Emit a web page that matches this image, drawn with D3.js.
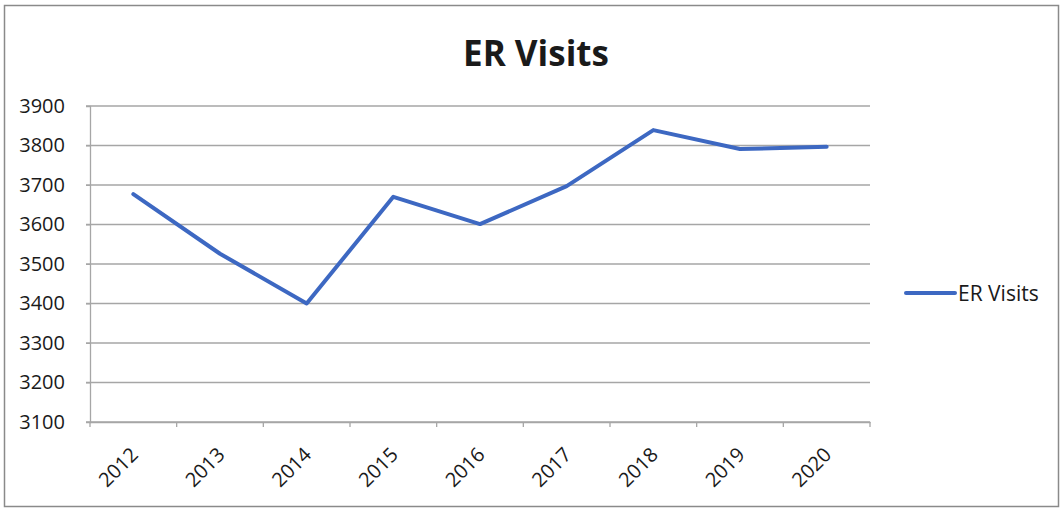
<!DOCTYPE html>
<html><head><meta charset="utf-8">
<script src="https://cdn.jsdelivr.net/npm/d3@7"></script>
<style>body{margin:0;background:#fff}svg{display:block}</style>
</head><body>
<svg id="c" width="1064" height="508"></svg>
<script>
const years = ["2012","2013","2014","2015","2016","2017","2018","2019","2020"];
const visits = [3677, 3526, 3400, 3670, 3601, 3697, 3839, 3791, 3797];
const yTicks = [3100,3200,3300,3400,3500,3600,3700,3800,3900];
const title = "ER Visits";
const seriesName = "ER Visits";

(function(){
const svg = d3.select("#c");
const font = "'Open Sans', 'DejaVu Sans', sans-serif";
const ink = "#1a1a1a";
svg.append("rect").attr("x",4.5).attr("y",5.5).attr("width",1054).attr("height",501)
  .attr("fill","#fff").attr("stroke","#8a8a8a").attr("stroke-width",1.5);

const pL=90, pR=870, pT=106, pB=422;
const x = d3.scaleBand().domain(years).range([pL,pR]);
const y = d3.scaleLinear().domain([3100,3900]).range([pB,pT]);

svg.append("g").selectAll("line").data(yTicks).join("line")
  .attr("x1",pL-4).attr("x2",pR).attr("y1",d=>y(d)).attr("y2",d=>y(d))
  .attr("stroke","#a6a6a6").attr("stroke-width",1.3);

const ya = svg.append("g").attr("transform",`translate(${pL},0)`)
  .call(d3.axisLeft(y).tickValues(yTicks).tickSize(4).tickPadding(21).tickFormat(d3.format("d")));
ya.select(".domain").attr("stroke","#a6a6a6").attr("stroke-width",1.3);
ya.selectAll(".tick line").attr("stroke","#a6a6a6");
ya.selectAll("text").attr("font-family",font).attr("font-size",20).attr("fill",ink);

const xa = svg.append("g").attr("transform",`translate(0,${pB})`)
  .call(d3.axisBottom(x).tickSize(0).tickFormat(d=>d));
xa.select(".domain").attr("stroke","#a6a6a6").attr("stroke-width",1.3);
xa.selectAll(".tick line").remove();
xa.selectAll("text").attr("font-family",font).attr("font-size",20).attr("fill",ink)
  .attr("text-anchor","end").attr("dy",0).attr("y",0)
  .attr("transform","translate(6,34) rotate(-45)");
const bounds = years.map(d=>x(d)).concat([x.range()[1]]);
svg.append("g").selectAll("line").data(bounds).join("line")
  .attr("x1",d=>d).attr("x2",d=>d).attr("y1",pB).attr("y2",pB+5)
  .attr("stroke","#a6a6a6").attr("stroke-width",1.3);

const line = d3.line().x((d,i)=>x(years[i])+x.bandwidth()/2).y(d=>y(d));
svg.append("path").datum(visits).attr("d",line).attr("fill","none")
  .attr("stroke","#3d68c2").attr("stroke-width",4).attr("stroke-linejoin","round").attr("stroke-linecap","round");

svg.append("text").attr("x",536).attr("y",66).attr("text-anchor","middle")
  .attr("font-family",font).attr("font-weight","bold").attr("font-size",35).attr("fill",ink).text(title);

svg.append("line").attr("x1",906).attr("x2",955).attr("y1",293).attr("y2",293)
  .attr("stroke","#3d68c2").attr("stroke-width",4).attr("stroke-linecap","round");
svg.append("text").attr("x",958).attr("y",301).attr("font-family",font).attr("font-size",21)
  .attr("fill",ink).text(seriesName);
})();
</script>
</body></html>
